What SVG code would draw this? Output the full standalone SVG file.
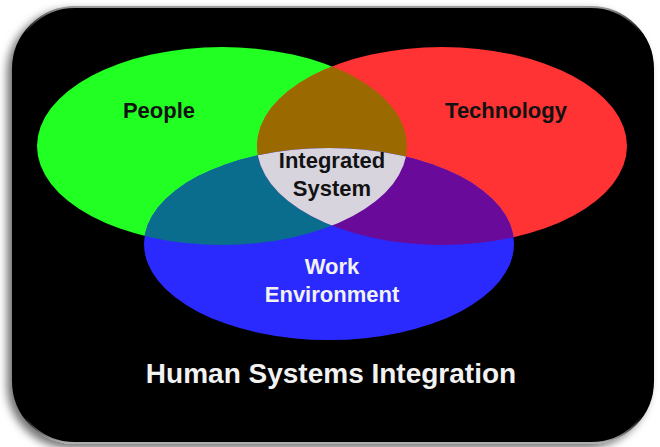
<svg xmlns="http://www.w3.org/2000/svg" width="660" height="447" viewBox="0 0 660 447">
<defs>
<style>
.lbl{font-family:"Liberation Sans",Arial,sans-serif;font-weight:bold;font-size:22px;text-anchor:middle}
.dark{fill:#121212}
.light{fill:#f2f2f2}
.title{font-size:28px}
</style>
<filter id="shadow" x="-10%" y="-10%" width="120%" height="120%">
<feDropShadow dx="-5" dy="4" stdDeviation="4" flood-color="#000" flood-opacity="0.55"/>
</filter>
<linearGradient id="bevel" x1="0" y1="0" x2="0" y2="1">
<stop offset="0" stop-color="#9a9a9a"/>
<stop offset="0.06" stop-color="#000"/>
<stop offset="0.94" stop-color="#000"/>
<stop offset="1" stop-color="#b0b0b0"/>
</linearGradient>
<clipPath id="cg"><ellipse cx="222" cy="146" rx="185" ry="99"/></clipPath>
<clipPath id="cr"><ellipse cx="442" cy="146" rx="185" ry="99"/></clipPath>
<clipPath id="cb"><ellipse cx="329" cy="244" rx="185" ry="96"/></clipPath>
</defs>
<rect width="660" height="447" fill="#fff"/>
<g id="frame">
<rect x="13" y="7" width="640" height="436" rx="62" ry="62" fill="#000" stroke="url(#bevel)" stroke-width="2" filter="url(#shadow)"/>
</g>
<g id="people">
<ellipse cx="222" cy="146" rx="185" ry="99" fill="#22ff22"/>
</g>
<g id="technology">
<ellipse cx="442" cy="146" rx="185" ry="99" fill="#ff3333"/>
</g>
<g id="work-environment">
<ellipse cx="329" cy="244" rx="185" ry="96" fill="#2a2aff"/>
</g>
<g id="overlaps">
<ellipse cx="442" cy="146" rx="185" ry="99" fill="#9a6a00" clip-path="url(#cg)"/>
<ellipse cx="329" cy="244" rx="185" ry="96" fill="#0a6d8e" clip-path="url(#cg)"/>
<ellipse cx="329" cy="244" rx="185" ry="96" fill="#6a0a9a" clip-path="url(#cr)"/>
</g>
<g id="integrated-system">
<g clip-path="url(#cg)"><g clip-path="url(#cr)">
<ellipse cx="329" cy="244" rx="185" ry="96" fill="#d7d4de"/>
</g></g>
<text class="lbl dark" x="332" y="168">Integrated</text>
<text class="lbl dark" x="332" y="196">System</text>
</g>
<g id="people-label"><text class="lbl dark" x="159" y="118">People</text></g>
<g id="technology-label"><text class="lbl dark" x="506" y="118">Technology</text></g>
<g id="work-label">
<text class="lbl light" x="332" y="274">Work</text>
<text class="lbl light" x="332" y="302">Environment</text>
</g>
<g id="title"><text class="lbl light title" x="331" y="383">Human Systems Integration</text></g>
<g id="connectors"/>
</svg>
